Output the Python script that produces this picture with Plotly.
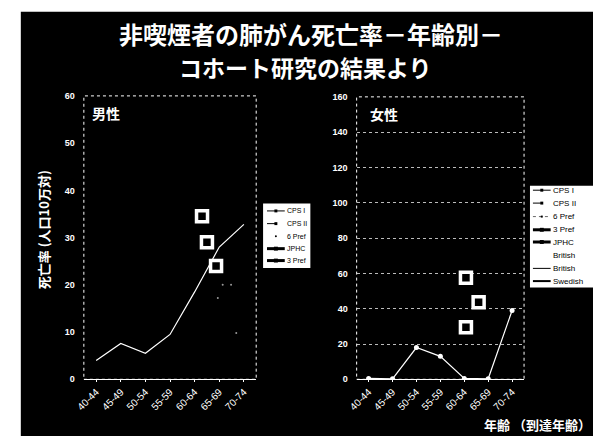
import plotly.graph_objects as go

age_groups = ["40-44", "45-49", "50-54", "55-59", "60-64", "65-69", "70-74"]
age_idx = list(range(len(age_groups)))

# Men (男性) – CPS I line
men_cps1 = [4.0, 7.6, 5.5, 9.5, 18.5, 28.0, 32.8]
# Men – JPHC open squares (positions read between categories)
men_jphc_x = [4.3, 4.5, 4.87]
men_jphc_y = [34.5, 29.0, 24.0]
# Men – faint 6 Pref dots
men_6pref_x = [4.94, 5.14, 5.48, 5.69]
men_6pref_y = [17.2, 20.0, 20.0, 9.8]

# Women (女性) – CPS line
women_cps = [0.5, 0.3, 18.0, 13.0, 0.5, 0.3, 39.0]
# Women – JPHC open squares
women_jphc_x = [4.07, 4.6, 4.07]
women_jphc_y = [57.5, 43.7, 29.5]

legend_men = ["CPS I", "CPS II", "6 Pref", "JPHC", "3 Pref"]
legend_women = ["CPS I", "CPS II", "6 Pref", "3 Pref", "JPHC", "British", "British", "Swedish"]

W, H = 593, 441
def px(x): return x / W
def py(y): return 1 - y / H

FONT = "Noto Sans CJK JP"
fig = go.Figure()

fig.add_trace(go.Scatter(x=age_idx, y=men_cps1, mode="lines", line=dict(color="white", width=1.2),
                         showlegend=False, xaxis="x", yaxis="y"))
fig.add_trace(go.Scatter(x=men_6pref_x, y=men_6pref_y, mode="markers",
                         marker=dict(color="#999", size=2), showlegend=False, xaxis="x", yaxis="y"))
fig.add_trace(go.Scatter(x=men_jphc_x, y=men_jphc_y, mode="markers",
                         marker=dict(symbol="square", color="black", size=11,
                                     line=dict(color="white", width=3.5)),
                         showlegend=False, xaxis="x", yaxis="y"))

fig.add_trace(go.Scatter(x=age_idx, y=women_cps, mode="lines+markers",
                         line=dict(color="white", width=1.2),
                         marker=dict(color="white", size=5), showlegend=False, xaxis="x2", yaxis="y2"))
fig.add_trace(go.Scatter(x=women_jphc_x, y=women_jphc_y, mode="markers",
                         marker=dict(symbol="square", color="black", size=11,
                                     line=dict(color="white", width=3.5)),
                         showlegend=False, xaxis="x2", yaxis="y2"))

# styles for hand-drawn legend samples: (line width, dash, marker size)
styles = {
    "CPS I": (1, "solid", 3),
    "CPS II": (1, "dash", 3),
    "6 Pref": (0.6, "dot", 2),
    "3 Pref": (3, "solid", 4),
    "JPHC": (3, "solid", 4),
    "British": (1, "solid", 0),
    "Swedish": (2, "solid", 0),
}

shapes = [
    dict(type="rect", xref="paper", yref="paper", x0=px(12), x1=1, y0=0, y1=py(7),
         fillcolor="black", line=dict(width=0), layer="below"),
    dict(type="rect", xref="x domain", yref="y domain", x0=0, x1=1, y0=0, y1=1,
         line=dict(color="white", width=1, dash="dot")),
    dict(type="rect", xref="x2 domain", yref="y2 domain", x0=0, x1=1, y0=0, y1=1,
         line=dict(color="white", width=1, dash="dot")),
]
annotations = []

def draw_legend(names, box, ys, lx0, lx1, tx, fsize, right_panel=False):
    bx0, by0, bx1, by1 = box
    shapes.append(dict(type="rect", xref="paper", yref="paper", x0=px(bx0), x1=px(bx1),
                       y0=py(by1), y1=py(by0), fillcolor="white", line=dict(color="white", width=0)))
    seen = set()
    for name, yy in zip(names, ys):
        lw, dash, ms = styles[name]
        hide = (name == "British" and name not in seen and right_panel)
        seen.add(name)
        if name == "6 Pref" and not right_panel:
            c = (lx0 + lx1) / 2
            shapes.append(dict(type="circle", xref="paper", yref="paper",
                               x0=px(c - 1), x1=px(c + 1),
                               y0=py(yy + 1), y1=py(yy - 1), fillcolor="black", line=dict(width=0)))
        elif not hide:
            shapes.append(dict(type="line", xref="paper", yref="paper", x0=px(lx0), x1=px(lx1),
                               y0=py(yy), y1=py(yy), line=dict(color="black", width=lw, dash=dash)))
            if ms:
                c = (lx0 + lx1) / 2
                shapes.append(dict(type="rect", xref="paper", yref="paper",
                                   x0=px(c - ms / 2), x1=px(c + ms / 2),
                                   y0=py(yy + ms / 2), y1=py(yy - ms / 2),
                                   fillcolor="black", line=dict(width=0)))
        annotations.append(dict(text=name, x=px(tx), y=py(yy), xref="paper", yref="paper",
                                xanchor="left", yanchor="middle", showarrow=False,
                                font=dict(family="Liberation Sans", size=fsize, color="black")))

draw_legend(legend_men, (258, 203, 306, 269), [210.7, 223.7, 236.7, 249.3, 261.5], 262, 280, 280, 7)
draw_legend(legend_women, (529, 185, 593, 289), [189.5, 202.7, 216.5, 230, 242.5, 256.5, 269.5, 282.5],
            532, 550, 550, 8, right_panel=True)

axis_common = dict(showgrid=False, zeroline=False, color="white")
xcommon = dict(axis_common, tickmode="array", tickvals=age_idx, ticktext=age_groups,
               range=[-0.5, 6.5], tickangle=-45, showline=True, linecolor="white", linewidth=1,
               ticks="outside", ticklen=2, tickcolor="white",
               tickfont=dict(family="Liberation Sans", size=10, color="white"))
ytf = dict(family="Liberation Sans", size=9, color="white", weight="bold")

def note(text, x, y, size, **kw):
    d = dict(text=text, x=px(x), y=py(y), xref="paper", yref="paper", showarrow=False,
             xanchor="center", yanchor="middle",
             font=dict(family=FONT, size=size, color="white", weight="bold"))
    d.update(kw)
    return d

annotations += [
    note("非喫煙者の肺がん死亡率－年齢別－", 307, 29, 24),
    note("コホート研究の結果より", 301, 63, 23),
    note("男性", 98, 111, 14),
    note("女性", 381, 112, 14),
    note("死亡率 (人口10万対)", 35, 230, 13, textangle=-90),
    note("年齢 （到達年齢）", 537, 429, 13),
]

fig.update_layout(
    width=W, height=H,
    margin=dict(l=0, r=0, t=0, b=0),
    paper_bgcolor="white", plot_bgcolor="black",
    showlegend=False,
    xaxis=dict(xcommon, domain=[px(76), px(251)], anchor="y"),
    yaxis=dict(axis_common, domain=[py(383), py(93)], range=[0, 60], dtick=10, anchor="x",
               tickfont=ytf, ticklabelstandoff=8),
    xaxis2=dict(xcommon, domain=[px(353), px(523)], anchor="y2"),
    yaxis2=dict(axis_common, domain=[py(383), py(94)], range=[0, 160], dtick=20, anchor="x2",
                showgrid=True, gridcolor="#bbbbbb", griddash="dot", gridwidth=1, tickfont=ytf,
                ticklabelstandoff=8),
    shapes=shapes,
    annotations=annotations,
)

fig.write_html("out.html", config={"displayModeBar": False})
with open("out.html", "r", encoding="utf-8") as f:
    html = f.read()
html = html.replace("<head>", "<head><style>html,body{margin:0;padding:0;overflow:hidden}</style>", 1)
with open("out.html", "w", encoding="utf-8") as f:
    f.write(html)
